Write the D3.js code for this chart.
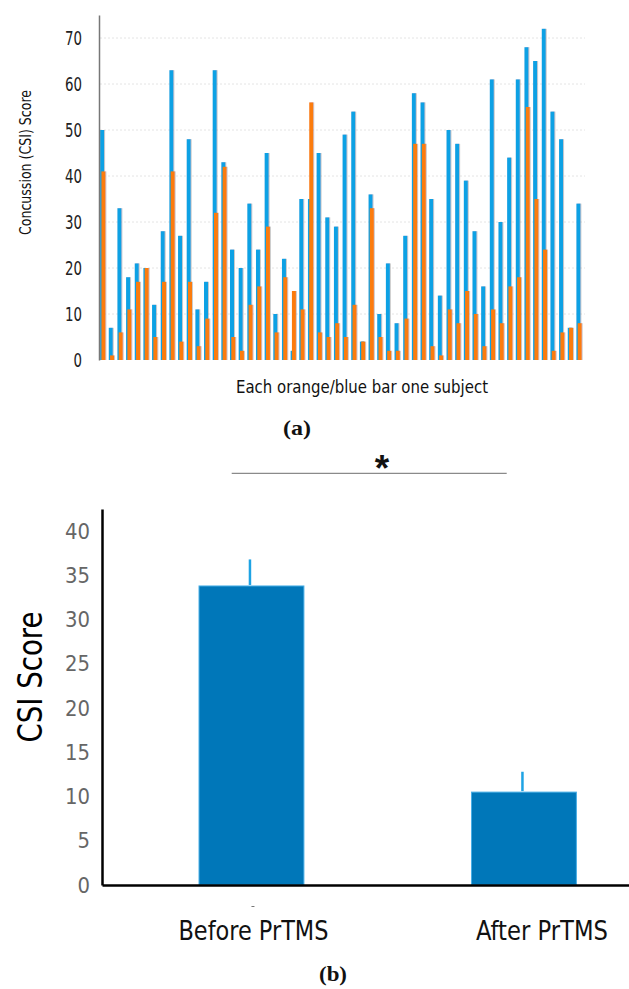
<!DOCTYPE html>
<html>
<head>
<meta charset="utf-8">
<script src="https://cdn.jsdelivr.net/npm/d3@7"></script>
<style>
  body { margin: 0; background: #fff; }
  svg { display: block; }
  .narrow { font-family: "Liberation Sans Narrow", "DejaVu Sans Condensed", "Roboto", sans-serif; }
</style>
</head>
<body>
<div id="chart"></div>
<script>
// (a) per-subject CSI scores, blue = before, orange = after
const subjects = d3.range(1, 57);
const blueScores = [50, 7, 33, 18, 21, 20, 12, 28, 63, 27, 48, 11, 17, 63, 43, 24, 20, 34, 24, 45,
    10, 22, 2, 35, 35, 45, 31, 29, 49, 54, 4, 36, 10, 21, 8, 27, 58, 56, 35, 14,
    50, 47, 39, 28, 16, 61, 30, 44, 61, 68, 65, 72, 54, 48, 7, 34];
const orangeScores = [41, 1, 6, 11, 17, 20, 5, 17, 41, 4, 17, 3, 9, 32, 42, 5, 2, 12, 16, 29,
    6, 18, 15, 11, 56, 6, 5, 8, 5, 12, 4, 33, 5, 2, 2, 9, 47, 47, 3, 1,
    11, 8, 15, 10, 3, 11, 8, 16, 18, 55, 35, 24, 2, 6, 7, 8];
const topTicks = [0, 10, 20, 30, 40, 50, 60, 70];

// (b) group means with upper error
const groups = ["Before PrTMS", "After PrTMS"];
const means = [33.8, 10.5];
const errors = [3.0, 2.3];
const bottomTicks = [0, 5, 10, 15, 20, 25, 30, 35, 40];

const width = 629;
const height = 989;

const svg = d3.select("#chart")
    .append("svg")
    .attr("width", width)
    .attr("height", height);

const defs = svg.append("defs");
defs.append("filter")
    .attr("id", "soft")
    .attr("x", "-50%").attr("y", "-5%")
    .attr("width", "200%").attr("height", "110%")
    .append("feDropShadow")
    .attr("dx", 0.8).attr("dy", 0)
    .attr("stdDeviation", 0.7)
    .attr("flood-color", "#888")
    .attr("flood-opacity", 0.55);

// ---------- (a) ----------
const yTop = d3.scaleLinear().domain([0, 75]).range([360, 15]);
const xTop = d3.scaleBand()
    .domain(subjects)
    .range([98.8, 582.9])
    .paddingInner(0.5)
    .paddingOuter(0.2);

const topChart = svg.append("g");

// faint gridlines
topChart.append("g")
    .selectAll("line")
    .data(topTicks.filter(d => d > 0))
    .join("line")
    .attr("x1", 100)
    .attr("x2", 585)
    .attr("y1", d => yTop(d))
    .attr("y2", d => yTop(d))
    .attr("stroke", "#e4e4e4")
    .attr("stroke-dasharray", "2,2")
    .attr("stroke-width", 1);

const barW = 4;
const bars = topChart.append("g").attr("filter", "url(#soft)");

bars.selectAll("rect.blue")
    .data(blueScores)
    .join("rect")
    .attr("class", "blue")
    .attr("x", (d, i) => xTop(subjects[i]) + xTop.bandwidth() / 2 - barW / 2 - 0.6)
    .attr("y", d => yTop(d))
    .attr("width", barW)
    .attr("height", d => yTop(0) - yTop(d))
    .attr("fill", "#0ea1e4");

bars.selectAll("rect.orange")
    .data(orangeScores)
    .join("rect")
    .attr("class", "orange")
    .attr("x", (d, i) => xTop(subjects[i]) + xTop.bandwidth() / 2 - barW / 2 + 0.7)
    .attr("y", d => yTop(d))
    .attr("width", barW)
    .attr("height", d => yTop(0) - yTop(d))
    .attr("fill", "#fb7c10");

const yAxisTop = topChart.append("g")
    .attr("transform", "translate(99,0)")
    .call(d3.axisLeft(yTop).tickValues(topTicks).tickSize(0).tickPadding(17));
yAxisTop.select(".domain").attr("stroke", "#777").attr("stroke-width", 1.5);
yAxisTop.selectAll("text")
    .attr("class", "narrow")
    .attr("font-size", 19)
    .attr("textLength", d => String(d).length * 8.5)
    .attr("lengthAdjust", "spacingAndGlyphs")
    .attr("fill", "#222");

topChart.append("text")
    .attr("class", "narrow")
    .attr("transform", "translate(31,162.5) rotate(-90)")
    .attr("text-anchor", "middle")
    .attr("font-size", 16)
    .attr("textLength", 145)
    .attr("lengthAdjust", "spacingAndGlyphs")
    .attr("fill", "#111")
    .text("Concussion (CSI) Score");

topChart.append("text")
    .attr("class", "narrow")
    .attr("x", 362)
    .attr("y", 393)
    .attr("text-anchor", "middle")
    .attr("font-size", 18)
    .attr("textLength", 252)
    .attr("lengthAdjust", "spacingAndGlyphs")
    .attr("fill", "#111")
    .text("Each orange/blue bar one subject");

svg.append("text")
    .attr("x", 297)
    .attr("y", 435)
    .attr("text-anchor", "middle")
    .attr("font-family", "Liberation Serif, DejaVu Serif, serif")
    .attr("font-weight", "bold")
    .attr("font-size", 21)
    .attr("textLength", 28)
    .attr("lengthAdjust", "spacingAndGlyphs")
    .attr("fill", "#111")
    .text("(a)");

// significance marker
svg.append("line")
    .attr("x1", 231.7).attr("x2", 506.7)
    .attr("y1", 473.3).attr("y2", 473.3)
    .attr("stroke", "#8a8a8a")
    .attr("stroke-width", 1.3);

svg.append("text")
    .attr("x", 382)
    .attr("y", 481)
    .attr("text-anchor", "middle")
    .attr("font-family", "Liberation Sans, Arial, sans-serif")
    .attr("font-weight", "bold")
    .attr("font-size", 37)
    .attr("fill", "#111")
    .text("*");

// ---------- (b) ----------
const yBot = d3.scaleLinear().domain([0, 42.5]).range([885, 509]);
const xBot = d3.scaleBand()
    .domain(groups)
    .range([102, 673.4])
    .paddingInner(0.615)
    .paddingOuter(0.356);

const bottomChart = svg.append("g");

bottomChart.selectAll("rect.mean")
    .data(means)
    .join("rect")
    .attr("class", "mean")
    .attr("x", (d, i) => xBot(groups[i]))
    .attr("y", d => yBot(d))
    .attr("width", xBot.bandwidth())
    .attr("height", d => yBot(0) - yBot(d))
    .attr("fill", "#0077b9")
    .attr("stroke", "#48aee6")
    .attr("stroke-width", 1);

bottomChart.selectAll("line.err")
    .data(means)
    .join("line")
    .attr("class", "err")
    .attr("x1", (d, i) => xBot(groups[i]) + xBot.bandwidth() / 2 - 1.5)
    .attr("x2", (d, i) => xBot(groups[i]) + xBot.bandwidth() / 2 - 1.5)
    .attr("y1", d => yBot(d) - 1)
    .attr("y2", (d, i) => yBot(d + errors[i]))
    .attr("stroke", "#1ea3e4")
    .attr("stroke-width", 2.5);

const yAxisBot = bottomChart.append("g")
    .attr("transform", "translate(102,0)")
    .call(d3.axisLeft(yBot).tickValues(bottomTicks).tickSize(0).tickPadding(12));
yAxisBot.select(".domain").attr("stroke", "#000").attr("stroke-width", 2.5);
yAxisBot.selectAll("text")
    .attr("class", "narrow")
    .attr("font-size", 22)
    .attr("textLength", d => String(d).length * 12.5)
    .attr("lengthAdjust", "spacingAndGlyphs")
    .attr("fill", "#666");

const xAxisBot = bottomChart.append("g")
    .attr("transform", "translate(0,885)")
    .call(d3.axisBottom(xBot).tickSize(0).tickPadding(36));
xAxisBot.select(".domain").attr("stroke", "#000").attr("stroke-width", 2.5);
xAxisBot.selectAll("text")
    .attr("class", "narrow")
    .attr("font-size", 27)
    .attr("fill", "#111")
    .attr("dx", (d, i) => i ? 18 : 2)
    .attr("textLength", (d, i) => i ? 132 : 150)
    .attr("lengthAdjust", "spacingAndGlyphs");

// small stray tick under the first bar
bottomChart.append("line")
    .attr("x1", xBot(groups[0]) + xBot.bandwidth() / 2)
    .attr("x2", xBot(groups[0]) + xBot.bandwidth() / 2 + 3)
    .attr("y1", 906.5).attr("y2", 906.5)
    .attr("stroke", "#777")
    .attr("stroke-width", 1);

bottomChart.append("text")
    .attr("class", "narrow")
    .attr("transform", "translate(42,677) rotate(-90)")
    .attr("text-anchor", "middle")
    .attr("font-size", 34)
    .attr("textLength", 131)
    .attr("lengthAdjust", "spacingAndGlyphs")
    .attr("fill", "#000")
    .text("CSI Score");

svg.append("text")
    .attr("x", 333)
    .attr("y", 981)
    .attr("text-anchor", "middle")
    .attr("font-family", "Liberation Serif, DejaVu Serif, serif")
    .attr("font-weight", "bold")
    .attr("font-size", 20)
    .attr("textLength", 28)
    .attr("lengthAdjust", "spacingAndGlyphs")
    .attr("fill", "#111")
    .text("(b)");
</script>
</body>
</html>
